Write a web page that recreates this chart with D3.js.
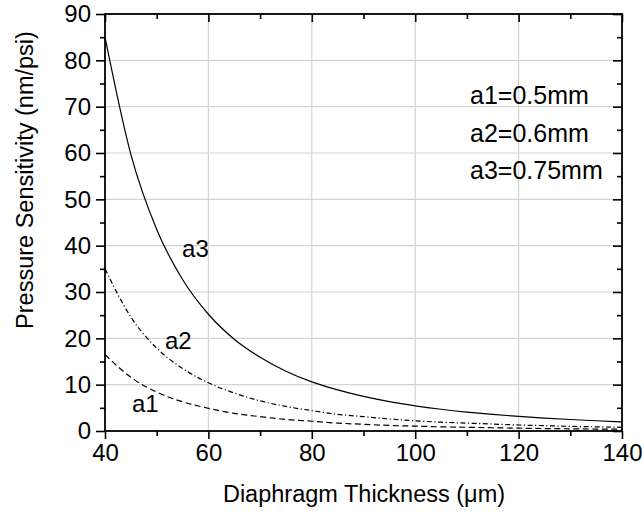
<!DOCTYPE html>
<html>
<head>
<meta charset="utf-8">
<script src="https://cdn.jsdelivr.net/npm/d3@7/dist/d3.min.js"></script>
<style>
  html, body { margin: 0; padding: 0; background: #fff; }
  svg { display: block; }
  text { font-family: "Liberation Sans", Arial, sans-serif; fill: #000; }
</style>
</head>
<body>
<svg id="chart" width="642" height="512"></svg>
<script>
// Diaphragm thickness (µm) and pressure sensitivity (nm/psi) for three diaphragm radii
const thickness = [40, 45, 50, 55, 60, 65, 70, 75, 80, 85, 90, 95, 100, 105, 110, 115, 120, 125, 130, 135, 140];
const sensA1 = [16.5, 11.6, 8.4, 6.3, 4.9, 3.8, 3.1, 2.5, 2.1, 1.7, 1.45, 1.2, 1.05, 0.9, 0.8, 0.7, 0.6, 0.53, 0.47, 0.42, 0.38];
const sensA2 = [35, 24.6, 17.9, 13.5, 10.4, 8.2, 6.5, 5.3, 4.4, 3.6, 3.1, 2.6, 2.2, 1.9, 1.7, 1.5, 1.3, 1.15, 1.0, 0.9, 0.8];
const sensA3 = [85, 59.7, 43.5, 32.7, 25.2, 19.8, 15.9, 12.9, 10.6, 8.86, 7.46, 6.34, 5.44, 4.70, 4.09, 3.58, 3.15, 2.79, 2.48, 2.21, 1.98];

const xTicks = [40, 60, 80, 100, 120, 140];
const xMinorTicks = [50, 70, 90, 110, 130];
const yTicks = [0, 10, 20, 30, 40, 50, 60, 70, 80, 90];
const yMinorTicks = [5, 15, 25, 35, 45, 55, 65, 75, 85];

const legendLines = ["a1=0.5mm", "a2=0.6mm", "a3=0.75mm"];
const curveLabels = ["a1", "a2", "a3"];
const xTitle = "Diaphragm Thickness (\u03bcm)";
const yTitle = "Pressure Sensitivity (nm/psi)";

const series = [
  { name: "a1", values: sensA1, dash: "6,3.5", label: { x: 45.2, y: 4.1 } },
  { name: "a2", values: sensA2, dash: "5,2.5,1.2,2.5", label: { x: 51.6, y: 17.7 } },
  { name: "a3", values: sensA3, dash: null, label: { x: 54.9, y: 37.6 } }
];

const plot = { left: 105, right: 622, top: 14, bottom: 431 };
const svg = d3.select("#chart");

const x = d3.scaleLinear().domain([40, 140]).range([plot.left, plot.right]);
const y = d3.scaleLinear().domain([0, 90]).range([plot.bottom, plot.top]);

// grid
const grid = svg.append("g").attr("stroke", "#d4d4d4").attr("stroke-width", 1.2);
grid.selectAll("line.gx").data(xTicks.slice(1, -1)).join("line")
  .attr("x1", d => x(d)).attr("x2", d => x(d))
  .attr("y1", plot.top).attr("y2", plot.bottom);
grid.selectAll("line.gy").data(yTicks.slice(1, -1)).join("line")
  .attr("x1", plot.left).attr("x2", plot.right)
  .attr("y1", d => y(d)).attr("y2", d => y(d));

// curves
const line = d3.line()
  .x((d, i) => x(thickness[i]))
  .y(d => y(d))
  .curve(d3.curveMonotoneX);

svg.append("g").selectAll("path").data(series).join("path")
  .attr("d", s => line(s.values))
  .attr("fill", "none")
  .attr("stroke", "#000")
  .attr("stroke-width", 1.2)
  .attr("stroke-dasharray", s => s.dash);

// axes
function styleAxis(g) {
  g.select(".domain").remove();
  g.selectAll(".tick line").attr("stroke", "#000").attr("stroke-width", 1.6);
  g.selectAll(".tick text").style("font-size", "24px").style("font-family", "'Liberation Sans', Arial, sans-serif");
}

svg.append("g").attr("transform", `translate(0,${plot.bottom})`)
  .call(d3.axisBottom(x).tickValues(xTicks).tickSize(8).tickPadding(5).tickFormat(d3.format("d")))
  .call(styleAxis);
svg.append("g").attr("transform", `translate(0,${plot.bottom})`)
  .call(d3.axisBottom(x).tickValues(xMinorTicks).tickSize(5).tickFormat(""))
  .call(styleAxis);

svg.append("g").attr("transform", `translate(${plot.left},0)`)
  .call(d3.axisLeft(y).tickValues(yTicks).tickSize(9).tickPadding(5).tickFormat(d3.format("d")))
  .call(styleAxis);
svg.append("g").attr("transform", `translate(${plot.left},0)`)
  .call(d3.axisLeft(y).tickValues(yMinorTicks).tickSize(5).tickFormat(""))
  .call(styleAxis);

svg.append("g").attr("transform", `translate(0,${plot.top})`)
  .call(d3.axisTop(x).tickValues(xTicks).tickSize(-8).tickFormat(""))
  .call(styleAxis);
svg.append("g").attr("transform", `translate(0,${plot.top})`)
  .call(d3.axisTop(x).tickValues(xMinorTicks).tickSize(-5).tickFormat(""))
  .call(styleAxis);

svg.append("g").attr("transform", `translate(${plot.right},0)`)
  .call(d3.axisRight(y).tickValues(yTicks).tickSize(-9).tickFormat(""))
  .call(styleAxis);
svg.append("g").attr("transform", `translate(${plot.right},0)`)
  .call(d3.axisRight(y).tickValues(yMinorTicks).tickSize(-5).tickFormat(""))
  .call(styleAxis);

// frame
svg.append("rect")
  .attr("x", plot.left).attr("y", plot.top)
  .attr("width", plot.right - plot.left).attr("height", plot.bottom - plot.top)
  .attr("fill", "none").attr("stroke", "#000").attr("stroke-width", 1.8);

// curve labels
svg.append("g").selectAll("text").data(series).join("text")
  .attr("x", s => x(s.label.x))
  .attr("y", s => y(s.label.y))
  .style("font-size", "24px")
  .text((s, i) => curveLabels[i]);

// parameter legend
svg.append("g").selectAll("text").data(legendLines).join("text")
  .attr("x", 470)
  .attr("y", (d, i) => 104 + i * 37.5)
  .style("font-size", "25px")
  .text(d => d);

// axis titles
svg.append("text")
  .attr("x", 364)
  .attr("y", 502)
  .attr("text-anchor", "middle")
  .style("font-size", "23.5px")
  .text(xTitle);

svg.append("text")
  .attr("transform", "translate(33,180) rotate(-90)")
  .attr("text-anchor", "middle")
  .style("font-size", "23.5px")
  .text(yTitle);
</script>
</body>
</html>
